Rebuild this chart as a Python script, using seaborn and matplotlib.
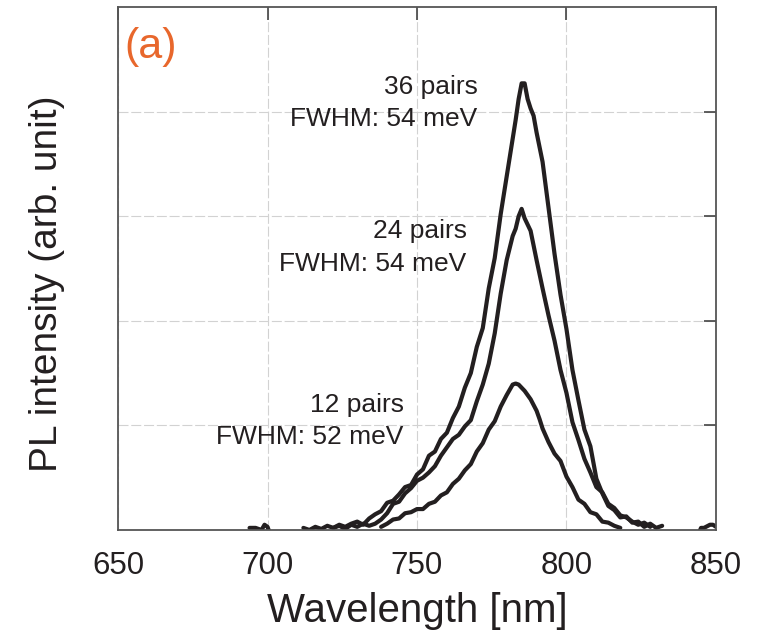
import numpy as np
import pandas as pd
import matplotlib
matplotlib.use("Agg")
import matplotlib.pyplot as plt
import seaborn as sns

# PL spectra (wavelength in nm, intensity in arb. unit)
wl_36 = [712, 714, 716, 718, 720, 722, 724, 726, 728, 730, 732, 734, 736, 738, 740, 742, 744, 746, 748,
         750, 752, 754, 756, 758, 760, 762, 764, 766, 768, 770, 772, 774, 776, 778, 780, 782, 783, 784,
         785, 786, 787, 788, 789, 790, 792, 794, 796, 798, 800, 802, 804, 806, 808, 810, 812, 814, 816,
         818, 820, 822, 824, 826, 828, 830, 832]
pl_36 = [0.02, 0.0, 0.03, 0.01, 0.04, 0.02, 0.05, 0.03, 0.06, 0.08, 0.05, 0.11, 0.15, 0.18, 0.26, 0.28,
         0.34, 0.41, 0.43, 0.53, 0.58, 0.71, 0.75, 0.87, 0.93, 1.07, 1.18, 1.36, 1.50, 1.75, 1.93, 2.31,
         2.60, 3.02, 3.38, 3.74, 3.92, 4.12, 4.27, 4.27, 4.12, 4.03, 3.96, 3.80, 3.52, 3.08, 2.64, 2.25,
         1.92, 1.53, 1.24, 0.96, 0.80, 0.49, 0.35, 0.23, 0.19, 0.12, 0.13, 0.07, 0.08, 0.03, 0.06, 0.02,
         0.04]

wl_24 = [722, 724, 726, 728, 730, 732, 734, 736, 738, 740, 742, 744, 746, 748, 750, 752, 754, 756, 758,
         760, 762, 764, 766, 768, 770, 772, 774, 776, 778, 780, 782, 783, 784, 785, 786, 787, 788, 790,
         792, 794, 796, 798, 800, 802, 804, 806, 808, 810, 812, 814, 816, 818, 820, 822, 824, 826, 828]
pl_24 = [0.02, 0.04, 0.01, 0.05, 0.03, 0.06, 0.04, 0.06, 0.10, 0.16, 0.25, 0.27, 0.35, 0.40, 0.47, 0.50,
         0.55, 0.61, 0.71, 0.79, 0.87, 0.91, 0.99, 1.05, 1.23, 1.39, 1.59, 1.88, 2.26, 2.58, 2.81, 2.88,
         3.00, 3.07, 2.98, 2.92, 2.86, 2.58, 2.31, 2.05, 1.81, 1.53, 1.31, 1.03, 0.86, 0.68, 0.55, 0.41,
         0.36, 0.25, 0.21, 0.14, 0.12, 0.08, 0.05, 0.07, 0.03]

wl_12 = [738, 740, 742, 744, 746, 748, 750, 752, 754, 756, 758, 760, 762, 764, 766, 768, 770, 772, 774,
         776, 778, 780, 782, 783, 784, 785, 786, 788, 790, 791, 792, 794, 796, 798, 800, 802, 804, 806,
         808, 810, 812, 814, 816, 818]
pl_12 = [0.03, 0.06, 0.10, 0.11, 0.16, 0.17, 0.20, 0.20, 0.25, 0.27, 0.33, 0.36, 0.44, 0.49, 0.57, 0.63,
         0.75, 0.83, 0.96, 1.04, 1.18, 1.29, 1.39, 1.40, 1.39, 1.36, 1.33, 1.25, 1.14, 1.06, 0.97, 0.84,
         0.73, 0.66, 0.51, 0.41, 0.29, 0.25, 0.17, 0.15, 0.08, 0.07, 0.04, 0.02]

# small noise blips near the baseline
wl_blip_l = [694, 696, 698, 699, 700, 701]
pl_blip_l = [0.02, 0.02, 0.0, 0.05, 0.03, -0.05]
wl_blip_r = [844, 845, 846, 848, 849, 850]
pl_blip_r = [-0.05, 0.02, 0.02, 0.05, 0.05, 0.03]

labels = ["36 pairs\nFWHM: 54 meV", "24 pairs\nFWHM: 54 meV", "12 pairs\nFWHM: 52 meV"]
label_pos = [(770.3, 4.08), (766.6, 2.70), (745.5, 1.04)]

sns.set_style("white")
plt.rcParams["font.family"] = ["Liberation Sans", "DejaVu Sans"]

ink = "#231f20"
fig = plt.figure(figsize=(7.59, 6.36), dpi=100)
ax = fig.add_axes([0.1555, 0.1667, 0.7878, 0.8223])

for wl, pl in [(wl_36, pl_36), (wl_24, pl_24), (wl_12, pl_12),
               (wl_blip_l, pl_blip_l), (wl_blip_r, pl_blip_r)]:
    df = pd.DataFrame({"wl": wl, "pl": pl})
    sns.lineplot(data=df, x="wl", y="pl", ax=ax, color=ink, lw=3.0,
                 estimator=None, sort=False)

ax.set_xlim(650, 850)
ax.set_ylim(0, 5)
ax.set_xticks([650, 700, 750, 800, 850])
ax.set_yticks([1, 2, 3, 4])
ax.set_yticklabels([])
ax.grid(True, color="#d2d2d2", lw=0.8, linestyle=(0, (9, 2.5)))
ax.tick_params(axis="both", direction="in", top=True, right=True, length=9,
               width=1.2, color="#444444", labelsize=22.5, labelcolor=ink, pad=14)
ax.tick_params(axis="x", pad=15)
for s in ax.spines.values():
    s.set_color("#555555")
    s.set_linewidth(1.3)

ax.set_xlabel("Wavelength [nm]", fontsize=29, color=ink, labelpad=8)
ax.set_ylabel("PL intensity (arb. unit)", fontsize=28, color=ink)
ax.yaxis.set_label_coords(-0.088, 0.47)

for txt, (x, y) in zip(labels, label_pos):
    ax.text(x, y, txt, ha="right", va="center", fontsize=19, color=ink,
            linespacing=1.45)

ax.text(652, 4.62, "(a)", fontsize=31, color="#e8672c", ha="left", va="center")

fig.savefig("out.png", dpi=100)
